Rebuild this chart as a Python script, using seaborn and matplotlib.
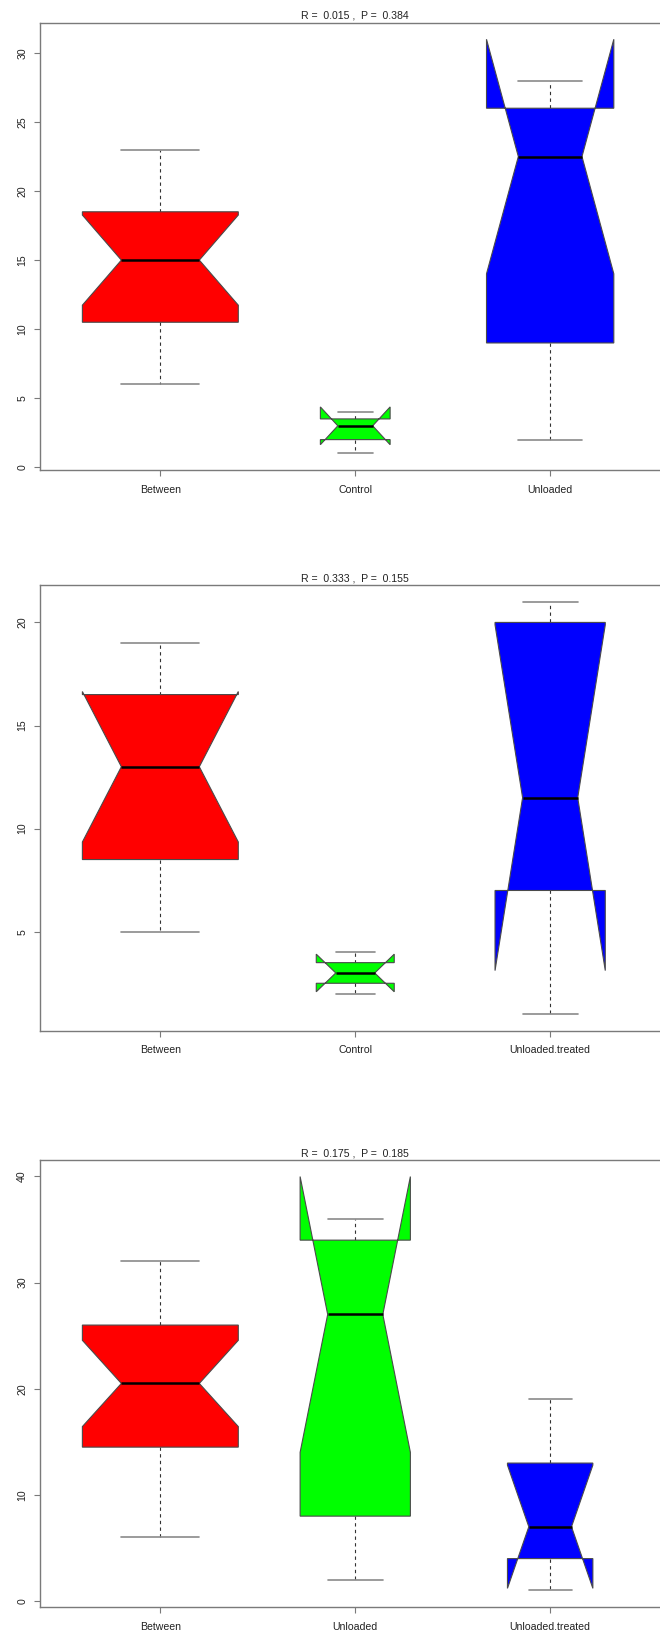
import numpy as np
import matplotlib
matplotlib.use("Agg")
import matplotlib.pyplot as plt
import seaborn as sns

# ---- ANOSIM rank-dissimilarity summaries (five-number summaries per class) ----
# Panel 1
p1_groups = ["Between", "Control", "Unloaded"]
p1_n = [15, 3, 10]
p1_low = [6, 1, 2]
p1_q1 = [10.5, 2, 9]
p1_med = [15, 3, 22.5]
p1_q3 = [18.5, 3.5, 26]
p1_high = [23, 4, 28]
p1_stat = ("0.015", "0.384")
p1_yticks = [0, 5, 10, 15, 20, 25, 30]

# Panel 2
p2_groups = ["Between", "Control", "Unloaded.treated"]
p2_n = [12, 3, 6]
p2_low = [5, 2, 1]
p2_q1 = [8.5, 2.5, 7]
p2_med = [13, 3, 11.5]
p2_q3 = [16.5, 3.5, 20]
p2_high = [19, 4, 21]
p2_stat = ("0.333", "0.155")
p2_yticks = [5, 10, 15, 20]

# Panel 3
p3_groups = ["Between", "Unloaded", "Unloaded.treated"]
p3_n = [20, 10, 6]
p3_low = [6, 2, 1]
p3_q1 = [14.5, 8, 4]
p3_med = [20.5, 27, 7]
p3_q3 = [26, 34, 13]
p3_high = [32, 36, 19]
p3_stat = ("0.175", "0.185")
p3_yticks = [0, 10, 20, 30, 40]

box_colors = ["#FF0000", "#00FF00", "#0000FF"]

sns.set_theme(style="white")
plt.rcParams["font.family"] = ["Liberation Sans", "DejaVu Sans"]

W, H = 660, 1635
fig = plt.figure(figsize=(W / 100, H / 100), dpi=100)

# axes frames in pixels: (left, top, right, bottom)
frames = [(39.5, 22.7, 671, 470.0),
          (39.5, 585.3, 671, 1030.7),
          (39.5, 1160.0, 671, 1607.0)]

panels = [
    (p1_groups, p1_n, p1_low, p1_q1, p1_med, p1_q3, p1_high, p1_stat, p1_yticks),
    (p2_groups, p2_n, p2_low, p2_q1, p2_med, p2_q3, p2_high, p2_stat, p2_yticks),
    (p3_groups, p3_n, p3_low, p3_q1, p3_med, p3_q3, p3_high, p3_stat, p3_yticks),
]

FS = 7.6
FRAME = "#7a7a7a"

for (l, t, r, b), (groups, n, low, q1, med, q3, high, stat, yticks) in zip(frames, panels):
    ax = fig.add_axes([l / W, 1 - b / H, (r - l) / W, (b - t) / H])
    n = np.asarray(n, float)
    q1a, q3a, meda = np.asarray(q1, float), np.asarray(q3, float), np.asarray(med, float)
    # R-style notches: median +/- 1.58 * IQR / sqrt(n)
    half = 1.58 * (q3a - q1a) / np.sqrt(n)
    cilo, cihi = meda - half, meda + half
    # widths proportional to sqrt(n), widest box 0.8
    widths = 0.8 * np.sqrt(n / n.max())

    stats = []
    for i, g in enumerate(groups):
        stats.append(dict(label=g, whislo=low[i], q1=q1[i], med=med[i], q3=q3[i],
                          whishi=high[i], cilo=cilo[i], cihi=cihi[i], fliers=[]))
    pos = np.arange(1, len(groups) + 1)
    bp = ax.bxp(stats, positions=pos, widths=widths, shownotches=True,
                patch_artist=True, showfliers=False,
                boxprops=dict(edgecolor="#4a4a4a", linewidth=0.8),
                whiskerprops=dict(color="#333333", linewidth=0.8, linestyle=(0, (3, 3))),
                capprops=dict(color="#8a8a8a", linewidth=1.2),
                medianprops=dict(color="black", linewidth=1.8),
                manage_ticks=False)
    for patch, c in zip(bp["boxes"], box_colors):
        patch.set_facecolor(c)
    for w in bp["whiskers"]:
        w.set_zorder(1)

    lo = min(min(low), cilo.min())
    hi = max(max(high), cihi.max())
    ext = 0.04 * (hi - lo)
    ax.set_ylim(lo - ext, hi + ext)
    ax.set_xlim(0.38, 3.62)

    ax.set_xticks(pos)
    ax.set_xticklabels(groups, fontsize=FS, color="#222222")
    ax.set_yticks(yticks)
    ax.set_yticklabels([str(v) for v in yticks], fontsize=FS, color="#222222",
                       rotation=90, va="center")
    ax.tick_params(axis="x", direction="out", length=4.3, width=0.8,
                   color=FRAME, pad=6.3, bottom=True)
    ax.tick_params(axis="y", direction="out", length=4.3, width=0.8,
                   color=FRAME, pad=4.6, left=True)
    for s in ax.spines.values():
        s.set_color(FRAME)
        s.set_linewidth(1.0)
    ax.grid(False)
    ax.set_title(f"R =  {stat[0]} ,  P =  {stat[1]}", fontsize=FS,
                 color="#222222", pad=2.8)
    ax.title.set_x(0.5)

fig.savefig("out.png", dpi=100)
